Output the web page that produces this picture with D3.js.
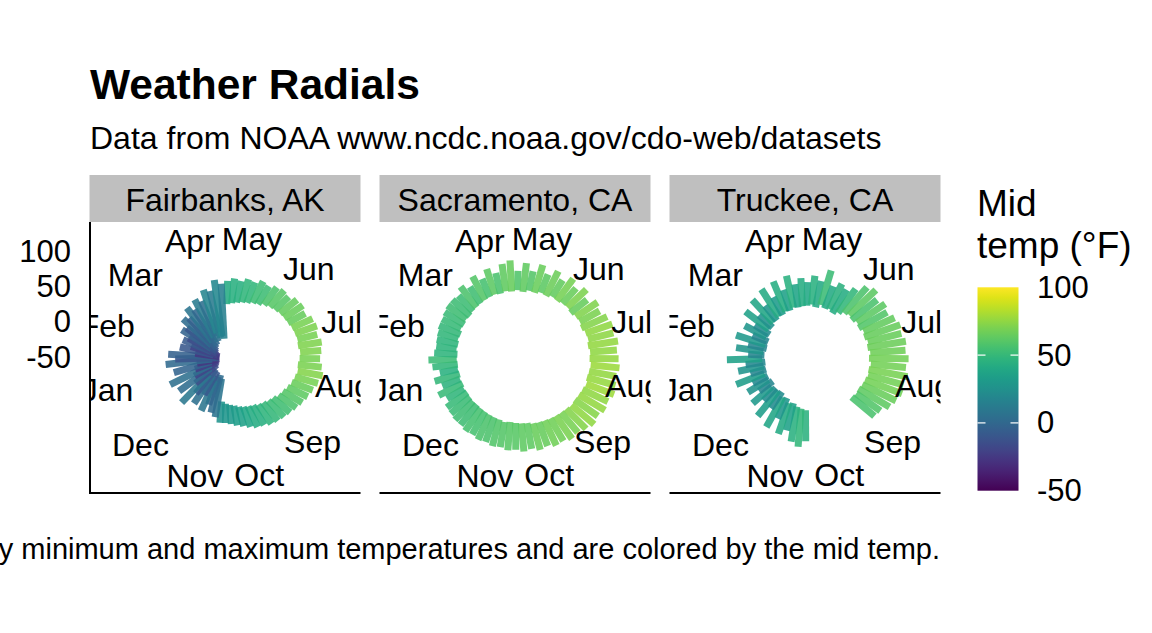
<!DOCTYPE html>
<html>
<head>
<meta charset="utf-8">
<script src="https://cdn.jsdelivr.net/npm/d3@7"></script>
<style>
  html, body { margin: 0; padding: 0; background: #ffffff; }
  svg { display: block; }
  text { font-family: "Liberation Sans", Arial, Helvetica, sans-serif; fill: #000; }
</style>
</head>
<body>
<svg id="chart" width="1152" height="633"></svg>
<script>
// ---------------- DATA ----------------
const titleText = "Weather Radials";
const subtitleText = "Data from NOAA www.ncdc.noaa.gov/cdo-web/datasets";
const captionText = "Bars represent daily minimum and maximum temperatures and are colored by the mid temp.";
const stations = ["Fairbanks, AK", "Sacramento, CA", "Truckee, CA"];
const periodStart = "2016-04-18";
const periodEnd = "2017-04-18";
const sampleStepDays = 5;   // one bar every 5 days, starting 2 days after periodStart
const rTicks = [-50, 0, 50, 100];
const legendTicks = [-50, 0, 50, 100];
const legendTitle = ["Mid", "temp (\u00B0F)"];

const fairbanksMin = [25,27,29,31,33,36,38,42,45,47,49,50,51,53,54,55,54,56,55,53,54,52,50,47,44,42,38,36,33,31,28,26,24,22,19,17,15,12,-20,-25,-22,-15,-28,-20,-30,-18,-35,-25,-38,-28,-40,-30,-42,-32,-42,-38,-43,-34,-40,-30,-38,-28,-36,-25,-33,-22,-30,-18,-26,-14,-22,-20,-24];
const fairbanksMax = [58,62,60,65,64,70,68,73,76,74,80,82,79,85,87,84,88,86,84,87,90,86,82,79,76,73,70,68,66,64,60,58,54,50,47,44,42,42,35,30,20,32,10,28,15,38,5,30,0,36,-5,25,-10,34,20,30,-8,15,0,14,8,22,18,30,25,38,30,42,36,50,46,60,54];

const sacramentoMin = [45,43,46,45,48,47,50,49,51,52,50,53,54,52,55,56,54,56,55,57,56,55,57,55,54,53,54,52,51,50,49,48,47,46,44,43,42,41,42,40,39,38,37,36,35,35,34,33,34,32,33,31,32,31,32,31,33,32,34,33,36,35,37,36,38,39,40,41,42,43,42,44,43];
const sacramentoMax = [72,84,74,86,76,86,78,88,80,89,80,90,86,92,95,93,97,94,96,98,95,97,99,95,97,93,96,92,88,90,86,87,83,85,81,83,80,81,78,79,76,77,74,75,72,72,70,69,62,70,60,68,58,67,72,64,62,63,64,66,66,68,70,70,68,76,68,79,70,81,72,83,87];

const truckeeMin = [23,25,22,27,24,26,23,28,33,36,34,38,36,40,38,41,39,42,40,43,41,42,40,39,37,38,36,null,null,null,null,null,null,null,null,null,24,22,20,16,18,12,14,8,10,9,12,6,10,8,11,7,9,6,10,7,9,5,8,6,11,9,14,12,16,15,18,17,20,19,22,21,22];
const truckeeMax = [56,66,60,78,58,66,62,70,82,88,80,86,82,88,92,90,94,92,96,93,97,94,96,92,88,80,78,null,null,null,null,null,null,null,null,null,68,76,70,56,64,44,62,36,56,34,48,30,44,32,54,30,46,34,60,30,48,32,52,30,46,34,56,38,60,42,64,46,66,50,68,54,62];

const seriesMin = [fairbanksMin, sacramentoMin, truckeeMin];
const seriesMax = [fairbanksMax, sacramentoMax, truckeeMax];

// ---------------- LAYOUT ----------------
const svg = d3.select("#chart");
const panelSize = 271;
const panelX0 = [89.5, 379.5, 669.5];
const panelY0 = 222;
const stripH = 47;

const parse = d3.timeParse("%Y-%m-%d");
const t0 = parse(periodStart), t1 = parse(periodEnd);
const theta = d3.scaleTime().domain([t0, t1]).range([0, 2 * Math.PI]);
const rScale = d3.scaleLinear().domain([-50.5, 102.8]).range([0, 0.4 * panelSize]);
const color = d3.scaleSequential(d3.interpolateViridis).domain([-50, 100]);
const sampleDates = fairbanksMin.map((_, i) => d3.timeDay.offset(t0, 2 + sampleStepDays * i));
const monthTicks = theta.ticks(d3.timeMonth.every(1));
const fmtMonth = d3.timeFormat("%b");

// Title, subtitle, caption
svg.append("text").attr("x", 90).attr("y", 99).attr("font-size", 42.5).attr("font-weight", "bold").text(titleText);
svg.append("text").attr("x", 90).attr("y", 149).attr("font-size", 32).text(subtitleText);
svg.append("text").attr("x", 940).attr("y", 559).attr("font-size", 29).attr("text-anchor", "end").text(captionText);

const defs = svg.append("defs");

stations.forEach((name, k) => {
  const x0 = panelX0[k], cx = x0 + panelSize / 2, cy = panelY0 + panelSize / 2;

  // strip
  svg.append("rect").attr("x", x0).attr("y", panelY0 - stripH).attr("width", panelSize).attr("height", stripH).attr("fill", "#bfbfbf");
  svg.append("text").attr("x", cx).attr("y", panelY0 - stripH / 2 + 1).attr("font-size", 32)
    .attr("text-anchor", "middle").attr("dominant-baseline", "central").text(name);

  defs.append("clipPath").attr("id", "clip" + k).append("rect")
    .attr("x", x0).attr("y", panelY0).attr("width", panelSize).attr("height", panelSize);
  const g = svg.append("g").attr("clip-path", `url(#clip${k})`);

  const mins = seriesMin[k], maxs = seriesMax[k];
  const rows = sampleDates.map((d, i) => ({ d, lo: mins[i], hi: maxs[i] })).filter(r => r.lo != null && r.hi != null);

  g.selectAll("line.bar").data(rows).join("line")
    .attr("class", "bar")
    .attr("x1", r => cx + rScale(r.lo) * Math.sin(theta(r.d)))
    .attr("y1", r => cy - rScale(r.lo) * Math.cos(theta(r.d)))
    .attr("x2", r => cx + rScale(r.hi) * Math.sin(theta(r.d)))
    .attr("y2", r => cy - rScale(r.hi) * Math.cos(theta(r.d)))
    .attr("stroke", r => color((r.lo + r.hi) / 2))
    .attr("stroke-width", 7)
    .attr("stroke-opacity", 0.88)
    .attr("stroke-linecap", "butt");

  // month labels
  g.selectAll("text.month").data(monthTicks).join("text")
    .attr("class", "month")
    .attr("x", d => cx + 0.45 * panelSize * Math.sin(theta(d)))
    .attr("y", d => cy - 0.45 * panelSize * Math.cos(theta(d)))
    .attr("text-anchor", "middle").attr("dominant-baseline", "central")
    .attr("font-size", 32).text(d => fmtMonth(d));

  // bottom axis line
  svg.append("line").attr("x1", x0).attr("x2", x0 + panelSize).attr("y1", panelY0 + panelSize).attr("y2", panelY0 + panelSize)
    .attr("stroke", "#000").attr("stroke-width", 2);

  if (k === 0) {
    svg.append("line").attr("x1", x0 + 0.5).attr("x2", x0 + 0.5).attr("y1", panelY0).attr("y2", panelY0 + panelSize + 1)
      .attr("stroke", "#000").attr("stroke-width", 2);
    svg.selectAll("text.rtick").data(rTicks).join("text")
      .attr("class", "rtick")
      .attr("x", 71).attr("y", v => cy - rScale(v))
      .attr("text-anchor", "end").attr("dominant-baseline", "central")
      .attr("font-size", 31).text(v => v);
  }
});

// ---------------- LEGEND ----------------
const lgX = 977.5, lgTop = 287.3, lgBot = 490.7, lgW = 41;
const lgScale = d3.scaleLinear().domain([-50, 100]).range([lgBot, lgTop]);
const grad = defs.append("linearGradient").attr("id", "vgrad").attr("x1", 0).attr("y1", 1).attr("x2", 0).attr("y2", 0);
d3.range(0, 1.0001, 0.05).forEach(t => grad.append("stop").attr("offset", t).attr("stop-color", d3.interpolateViridis(t)));
svg.append("rect").attr("x", lgX).attr("y", lgTop).attr("width", lgW).attr("height", lgBot - lgTop).attr("fill", "url(#vgrad)");
legendTicks.filter(v => v > -50 && v < 100).forEach(v => {
  const y = lgScale(v);
  svg.append("line").attr("x1", lgX).attr("x2", lgX + 8).attr("y1", y).attr("y2", y).attr("stroke", "#fff").attr("stroke-width", 1.2);
  svg.append("line").attr("x1", lgX + lgW - 8).attr("x2", lgX + lgW).attr("y1", y).attr("y2", y).attr("stroke", "#fff").attr("stroke-width", 1.2);
});
svg.selectAll("text.ltick").data(legendTicks).join("text")
  .attr("class", "ltick").attr("x", 1037).attr("y", v => lgScale(v))
  .attr("dominant-baseline", "central").attr("font-size", 31).text(v => v);
legendTitle.forEach((s, i) => {
  svg.append("text").attr("x", 977).attr("y", 216 + i * 42).attr("font-size", 37).text(s);
});
</script>
</body>
</html>
